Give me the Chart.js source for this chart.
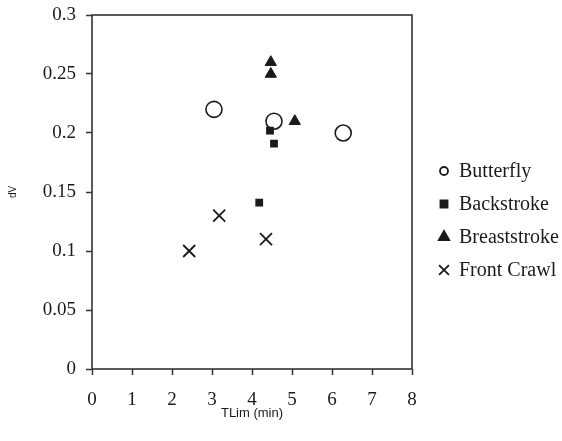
<!DOCTYPE html>
<html>
<head>
<meta charset="utf-8">
<script src="https://cdn.jsdelivr.net/npm/chart.js@4/dist/chart.umd.min.js"></script>
<style>
  body { margin: 0; background: #fff; }
</style>
</head>
<body>
<canvas id="myChart" width="562" height="441"></canvas>
<script>
// values: [TLim, dV]
const butterfly = [[3.05, 0.22], [4.55, 0.21], [6.28, 0.20]];
const backstroke = [[4.45, 0.202], [4.55, 0.191], [4.18, 0.141]];
const breaststroke = [[4.47, 0.26], [4.47, 0.25], [5.07, 0.21]];
const frontCrawl = [[2.43, 0.10], [3.18, 0.13], [4.35, 0.11]];

const xTicks = [0, 1, 2, 3, 4, 5, 6, 7, 8];
const yTicks = [0, 0.05, 0.1, 0.15, 0.2, 0.25, 0.3];

const ink = "#1a1a1a";
const serif = "'Liberation Serif', 'Times New Roman', serif";

const toPoints = arr => arr.map(p => ({ x: p[0], y: p[1] }));

// frame around the plot area plus the custom legend on the right
const framePlugin = {
  id: "frame",
  beforeDatasetsDraw(chart) {
    const { ctx, chartArea: a } = chart;
    ctx.save();
    ctx.strokeStyle = "#333";
    ctx.lineWidth = 1.6;
    ctx.strokeRect(a.left, a.top, a.right - a.left, a.bottom - a.top);
    ctx.restore();
  },
  afterDraw(chart) {
    const { ctx, chartArea: a } = chart;
    const mid = chart.height / 2;
    const gap = 33;
    const sizes = [4, 5, 6, 7];
    ctx.save();
    ctx.font = "20px " + serif;
    ctx.textBaseline = "middle";
    chart.data.datasets.forEach((ds, i) => {
      const y = mid + (i - 1.5) * gap;
      const x = a.right + 32;
      ctx.strokeStyle = ink;
      ctx.fillStyle = ds.pointStyle === "circle" ? "#fff" : ink;
      ctx.lineWidth = 1.8;
      Chart.helpers.drawPoint(ctx, {
        pointStyle: ds.pointStyle, radius: sizes[i], rotation: 0, borderWidth: 1.8
      }, x, y);
      ctx.fillStyle = ink;
      ctx.fillText(ds.label, a.right + 47, y + 1);
    });
    ctx.restore();
  }
};

new Chart(document.getElementById("myChart").getContext("2d"), {
  type: "scatter",
  data: {
    datasets: [
      {
        label: "Butterfly",
        data: toPoints(butterfly),
        pointStyle: "circle",
        pointRadius: 8,
        pointBorderWidth: 1.6,
        pointBackgroundColor: "#fff",
        pointBorderColor: ink,
        order: 1
      },
      {
        label: "Backstroke",
        data: toPoints(backstroke),
        pointStyle: "rect",
        pointRadius: 5.5,
        pointBorderWidth: 0,
        pointBackgroundColor: ink,
        pointBorderColor: ink,
        order: 0
      },
      {
        label: "Breaststroke",
        data: toPoints(breaststroke),
        pointStyle: "triangle",
        pointRadius: 6.5,
        pointBorderWidth: 1,
        pointBackgroundColor: ink,
        pointBorderColor: ink,
        order: 0
      },
      {
        label: "Front Crawl",
        data: toPoints(frontCrawl),
        pointStyle: "crossRot",
        pointRadius: 8.5,
        pointBorderWidth: 1.8,
        pointBackgroundColor: ink,
        pointBorderColor: ink,
        order: 0
      }
    ]
  },
  options: {
    responsive: false,
    animation: false,
    layout: { padding: { left: 0, top: 15, right: 150, bottom: 0 } },
    plugins: {
      legend: { display: false },
      tooltip: { enabled: false }
    },
    scales: {
      x: {
        type: "linear",
        min: 0,
        max: 8,
        afterBuildTicks: scale => { scale.ticks = xTicks.map(v => ({ value: v })); },
        afterFit: scale => { scale.height = 72; },
        grid: { drawOnChartArea: false, tickLength: 6, tickColor: "#333", tickWidth: 1.5 },
        border: { display: false },
        ticks: { color: ink, font: { family: serif, size: 19 }, padding: 14, maxRotation: 0 },
        title: {
          display: true,
          text: "TLim (min)",
          color: ink,
          font: { family: "'Liberation Sans', Arial, sans-serif", size: 13 },
          padding: { top: 0, bottom: 20 }
        }
      },
      y: {
        type: "linear",
        min: 0,
        max: 0.3,
        afterBuildTicks: scale => { scale.ticks = yTicks.map(v => ({ value: v })); },
        afterFit: scale => {
          scale.width = 92;
          scale.paddingTop = 0;
          scale.paddingBottom = 0;
        },
        grid: { drawOnChartArea: false, tickLength: 6, tickColor: "#333", tickWidth: 1.5 },
        border: { display: false },
        ticks: { color: ink, font: { family: serif, size: 19 }, padding: 10, callback: v => String(v) },
        title: {
          display: true,
          text: "dV",
          color: ink,
          font: { family: "'Liberation Sans', Arial, sans-serif", size: 10 },
          padding: { top: 7, bottom: 7 }
        }
      }
    }
  },
  plugins: [framePlugin]
});
</script>
</body>
</html>
